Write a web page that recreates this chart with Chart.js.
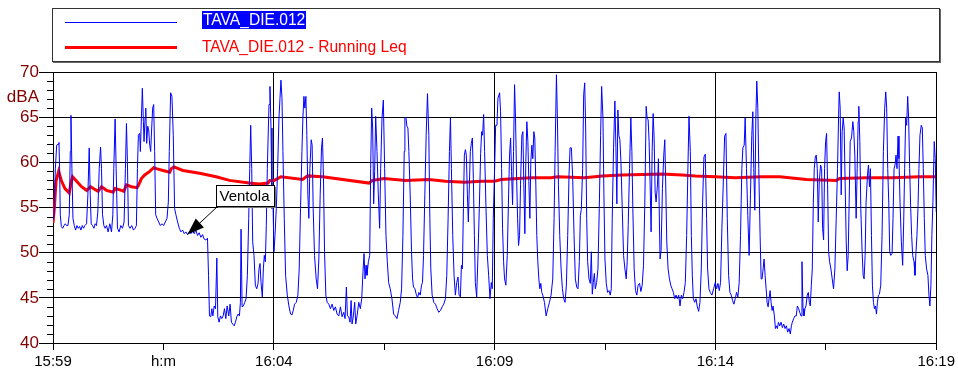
<!DOCTYPE html>
<html>
<head>
<meta charset="utf-8">
<script src="https://cdn.jsdelivr.net/npm/chart.js@4.4.0/dist/chart.umd.min.js"></script>
<style>
  html, body { margin: 0; padding: 0; background: #fff; }
  #wrap { position: relative; width: 958px; height: 376px; font-family: "Liberation Sans", Arial, sans-serif; }
  #chartCanvas { position: absolute; left: 0; top: 0; }
  #legend-box { position: absolute; left: 52px; top: 8px; width: 886px; height: 52px; border: 1px solid #333; box-shadow: 1px 1px 0 #666; }
  .swatch { position: absolute; left: 65px; width: 112px; }
  .leg-text { position: absolute; left: 202px; font-size: 15.6px; line-height: 18px; white-space: nowrap; }
</style>
</head>
<body>
<div id="wrap">
  <canvas id="chartCanvas" width="958" height="376"></canvas>
  <div id="legend-box"></div>
  <div class="swatch" style="top:22px;height:1px;background:#0000ff;"></div>
  <div class="swatch" style="top:46px;height:3px;background:#ff0000;"></div>
  <div class="leg-text" id="leg1" style="top:11px;color:#fff;background:#0000ff;padding:0 1px;"></div>
  <div class="leg-text" id="leg2" style="top:38px;color:#ff0000;"></div>
</div>
<script>
// seconds after 15:59:00 , dBA
const seriesNames = ['TAVA_DIE.012', 'TAVA_DIE.012 - Running Leq'];

const xTickLabels = ['15:59', 'h:m', '16:04', '', '16:09', '', '16:14', '', '16:19'];
const yUnitLabel = 'dBA';

const levelData = [
  [0,53.6],[1.4,54.2],[3.2,59.3],[5.0,61.9],[6.8,62.0],[8.1,62.2],[9.0,59.3],[9.9,54.2],
  [11.3,52.9],[13.1,52.7],[14.9,53.0],[16.7,53.2],[18.5,53.0],[20.3,53.0],[22.1,54.2],[23.5,61.2],
  [24.4,65.2],[25.7,59.3],[27.1,53.8],[28.9,53.0],[30.7,52.5],[32.5,53.0],[34.3,52.7],[36.1,52.9],
  [37.9,52.5],[39.7,53.0],[41.5,52.7],[43.3,53.0],[45.6,53.2],[47.4,56.4],[49.2,61.6],[50.6,56.4],
  [51.9,53.2],[53.7,53.0],[55.5,52.7],[57.3,53.2],[59.1,53.0],[60.9,54.5],[62.8,59.3],[64.6,61.7],
  [65.9,59.3],[67.3,54.2],[69.1,53.0],[70.9,52.7],[72.7,53.0],[74.9,52.3],[77.2,53.2],[79.5,52.3],
  [81.3,54.2],[82.6,59.3],[84.4,64.8],[85.8,59.3],[87.6,52.7],[89.8,52.3],[92.1,53.0],[94.4,52.7],
  [96.6,53.4],[98.4,59.3],[99.8,64.3],[101.1,60.1],[102.5,53.0],[104.7,52.7],[107.0,53.0],[109.3,52.5],
  [111.5,52.7],[113.3,53.0],[114.7,59.3],[116.0,63.0],[117.8,63.2],[118.7,61.2],[120.1,64.9],[121.4,68.2],
  [122.8,64.5],[123.7,62.3],[125.1,64.9],[126.0,66.0],[127.3,62.1],[128.7,64.0],[130.0,63.6],[131.4,61.9],
  [132.7,61.2],[134.1,63.8],[135.4,66.0],[136.8,66.4],[138.1,61.2],[139.5,54.2],[141.3,53.8],[143.6,53.4],
  [145.8,53.0],[148.1,53.2],[150.3,53.0],[152.6,53.4],[154.9,53.8],[156.7,55.6],[158.0,61.2],[159.8,67.7],
  [161.6,67.3],[163.4,63.0],[165.2,54.9],[167.0,54.2],[169.3,53.4],[171.6,52.7],[173.8,52.3],[176.1,52.5],
  [178.3,52.1],[180.6,52.3],[182.8,52.0],[185.1,52.3],[187.4,52.1],[189.6,52.4],[191.9,52.1],[194.1,52.5],
  [196.4,51.9],[198.6,52.2],[200.9,51.7],[203.2,52.0],[205.4,51.5],[207.7,51.4],[209.9,51.6],[211.3,47.5],
  [212.6,43.0],[214.4,42.9],[215.8,43.8],[217.2,43.0],[219.0,44.1],[220.8,43.8],[222.6,49.4],[223.9,42.9],
  [225.7,42.3],[227.5,43.0],[229.3,42.7],[231.2,43.0],[233.0,43.8],[234.8,42.7],[236.6,44.1],[238.8,43.0],
  [240.6,44.3],[242.4,42.3],[244.2,42.1],[246.1,41.9],[247.9,42.3],[249.7,42.9],[251.5,43.2],[253.3,43.0],
  [254.6,44.5],[255.5,52.6],[256.9,44.0],[258.7,44.1],[260.5,44.5],[262.3,44.9],[264.1,47.5],[265.9,53.8],
  [267.3,59.3],[268.6,64.1],[270.0,59.3],[271.3,51.2],[273.1,49.7],[274.9,46.4],[276.8,46.0],[278.6,46.6],
  [279.9,48.2],[281.3,48.8],[282.6,46.7],[284.4,45.1],[285.8,48.2],[287.1,49.7],[288.5,49.0],[289.8,53.0],
  [291.2,59.3],[292.6,63.8],[293.5,66.4],[294.8,68.4],[296.2,63.8],[297.5,54.9],[298.9,55.6],[300.2,50.1],
  [301.6,51.9],[303.4,54.9],[305.2,59.3],[307.0,64.9],[308.4,67.1],[309.7,69.1],[311.1,67.1],[312.4,61.2],
  [314.2,53.8],[316.0,47.5],[318.3,45.3],[320.5,44.1],[322.8,43.2],[324.6,43.1],[326.4,43.6],[328.2,44.3],
  [330.5,44.5],[332.7,45.3],[334.5,48.2],[336.3,54.9],[338.2,61.2],[339.5,64.9],[340.9,67.3],[342.2,66.0],
  [343.6,67.3],[344.9,63.0],[346.3,56.4],[347.6,53.8],[349.0,59.3],[350.8,62.5],[352.1,61.9],[353.5,54.9],
  [355.3,49.7],[357.6,47.1],[359.4,46.0],[361.2,49.3],[363.0,56.4],[364.8,61.6],[366.1,62.7],[367.5,58.2],
  [368.9,50.1],[370.7,45.3],[372.5,44.5],[374.7,44.3],[377.0,43.8],[379.2,44.3],[381.5,43.6],[383.7,44.0],
  [386.0,43.2],[388.3,43.0],[390.5,44.0],[392.8,42.9],[395.0,43.4],[396.8,42.7],[398.6,46.2],[400.0,43.0],
  [401.8,42.9],[403.6,42.3],[405.0,44.7],[406.3,42.1],[408.1,43.0],[409.9,44.5],[411.3,42.1],[413.1,43.0],
  [415.4,44.5],[417.6,43.8],[419.4,44.9],[421.2,47.9],[422.6,49.9],[423.9,47.1],[425.3,48.6],[426.6,47.5],
  [428.5,49.0],[430.3,49.7],[431.6,59.3],[433.0,66.0],[434.3,63.8],[435.7,55.4],[437.0,59.0],[438.4,65.1],
  [440.2,61.2],[442.0,56.4],[443.8,52.7],[445.2,59.3],[447.0,64.9],[448.8,66.9],[450.6,59.3],[452.4,51.9],
  [454.2,49.0],[456.0,46.7],[458.2,46.0],[460.5,44.9],[462.8,43.2],[465.0,43.0],[467.3,42.7],[469.5,43.6],
  [471.8,44.5],[473.6,46.0],[475.4,51.9],[477.2,61.2],[478.1,64.9],[479.5,65.0],[480.8,64.0],[482.2,63.8],
  [483.5,61.2],[485.3,56.4],[487.1,50.1],[488.5,47.1],[489.8,46.2],[491.7,46.0],[493.5,45.4],[495.3,45.0],
  [497.1,45.6],[498.9,45.3],[500.7,46.4],[502.0,46.7],[503.4,49.7],[505.2,56.4],[507.0,63.0],[508.8,67.6],
  [510.6,63.0],[512.0,53.8],[513.3,48.2],[515.1,45.3],[517.4,44.5],[519.6,44.3],[521.9,43.8],[524.2,43.4],
  [526.4,43.6],[528.7,44.0],[530.9,44.3],[533.2,44.9],[535.0,47.5],[536.8,53.8],[538.6,61.2],[540.0,64.9],
  [541.3,59.3],[543.1,51.9],[544.9,47.5],[546.7,45.3],[548.5,46.7],[550.3,47.3],[551.7,45.3],[553.5,45.1],
  [554.9,48.6],[556.2,48.2],[557.6,54.9],[558.9,60.8],[560.3,61.4],[561.6,60.8],[563.0,56.4],[564.3,53.4],
  [565.7,57.5],[567.0,61.2],[568.4,62.1],[569.8,62.7],[571.1,58.2],[572.5,51.9],[573.8,46.7],[575.6,45.1],
  [577.4,49.7],[579.2,54.9],[581.0,61.0],[582.4,63.4],[583.7,63.0],[585.1,65.3],[586.4,61.2],[588.3,54.9],
  [590.1,49.7],[591.9,47.5],[593.7,44.9],[595.5,46.7],[596.8,46.0],[598.2,53.8],[600.0,59.3],[601.4,64.1],
  [603.2,64.1],[604.5,67.1],[606.8,67.7],[608.1,65.6],[609.5,59.3],[610.8,52.7],[612.2,49.0],[613.5,47.1],
  [615.3,46.4],[617.2,49.7],[619.0,56.4],[620.3,60.8],[621.7,62.7],[623.0,59.0],[624.4,55.3],[625.7,61.2],
  [627.1,68.6],[628.4,64.9],[629.8,58.6],[631.2,53.8],[632.5,50.8],[633.9,51.9],[635.2,57.5],[637.0,63.0],
  [638.4,63.4],[639.7,57.5],[641.1,52.1],[642.4,60.1],[643.8,64.5],[645.2,62.3],[646.5,57.9],[647.9,53.8],
  [649.2,60.1],[650.6,61.9],[651.9,60.4],[653.3,63.4],[654.6,62.7],[656.0,57.5],[657.3,51.9],[658.7,49.0],
  [660.1,47.1],[661.4,46.0],[662.8,46.6],[664.1,45.6],[665.5,45.3],[667.7,44.5],[670.0,43.0],[672.2,43.8],
  [674.5,44.5],[676.7,45.3],[679.0,47.1],[680.8,53.8],[682.2,61.2],[684.0,69.7],[685.3,64.9],[686.7,57.5],
  [688.5,51.9],[690.3,48.2],[692.1,46.0],[693.9,44.9],[695.7,44.5],[697.5,46.4],[699.3,51.9],[701.1,58.6],
  [702.5,61.6],[704.3,61.6],[706.1,58.2],[707.9,51.9],[709.7,47.1],[711.5,46.2],[713.3,46.0],[715.1,49.0],
  [716.5,54.1],[717.8,54.8],[719.6,59.3],[721.0,67.5],[722.4,68.8],[723.7,63.8],[725.1,53.8],[726.4,49.0],
  [728.2,47.1],[730.0,46.6],[731.4,50.1],[732.7,45.4],[734.1,46.7],[735.5,47.7],[736.8,46.0],[738.6,46.7],
  [740.4,48.2],[742.2,54.9],[744.0,63.0],[745.4,68.4],[747.2,64.9],[748.5,56.4],[749.9,49.3],[751.7,46.6],
  [753.5,45.6],[755.3,45.8],[757.1,45.3],[758.5,46.0],[759.8,53.8],[761.6,61.6],[763.4,66.8],[764.8,61.6],
  [766.1,55.4],[767.5,65.8],[768.8,63.0],[770.2,62.5],[771.6,60.1],[773.4,54.9],[775.2,49.7],[777.0,48.2],
  [778.8,47.1],[780.1,49.0],[781.5,53.0],[783.3,59.3],[785.1,64.9],[786.5,61.2],[787.8,54.9],[789.6,48.2],
  [791.4,45.8],[793.2,45.3],[795.0,46.4],[796.9,46.6],[798.7,45.7],[800.5,46.4],[802.3,48.6],[804.1,55.6],
  [805.9,66.2],[807.2,64.9],[808.6,64.7],[809.9,62.3],[811.3,57.5],[812.6,52.3],[814.0,61.2],[815.4,65.4],
  [816.7,62.7],[818.1,56.7],[819.4,55.6],[821.2,57.5],[822.6,60.4],[823.9,53.4],[824.8,49.3],[826.2,50.3],
  [828.0,57.1],[829.8,60.8],[831.2,62.5],[832.5,57.5],[833.9,51.2],[835.7,48.2],[837.5,47.1],[839.3,46.4],
  [841.1,46.0],[842.9,45.6],[844.7,44.9],[846.5,45.3],[848.3,44.9],[850.1,45.3],[851.9,44.1],[853.7,45.3],
  [855.5,44.9],[857.3,45.6],[859.1,46.7],[860.9,51.9],[862.8,60.1],[864.1,65.1],[865.9,61.2],[867.3,51.9],
  [868.6,47.5],[870.0,44.9],[871.8,44.5],[873.6,44.9],[875.4,44.0],[877.2,43.5],[879.0,44.5],[880.8,48.2],
  [882.6,55.6],[884.4,60.6],[886.2,60.9],[888.0,53.8],[889.4,48.2],[891.2,46.0],[893.0,45.6],[895.3,45.3],
  [897.5,46.0],[899.8,46.7],[901.6,46.0],[903.4,46.6],[905.2,45.8],[907.0,46.7],[908.8,52.7],[910.6,57.5],
  [912.5,62.9],[914.3,63.2],[916.1,53.8],[917.9,47.5],[919.7,45.6],[921.5,45.3],[923.3,44.7],[925.1,44.3],
  [926.9,44.9],[928.7,45.6],[930.5,45.1],[932.3,46.7],[934.1,51.9],[935.9,59.3],[937.3,61.6],[939.1,61.9],
  [940.4,64.9],[942.2,59.3],[944.0,54.1],[945.8,49.7],[947.6,56.4],[949.4,63.0],[950.8,65.6],[952.1,59.3],
  [953.5,54.7],[954.9,64.9],[956.2,69.0],[957.6,66.0],[958.9,59.3],[960.7,51.9],[962.1,47.1],[963.4,47.1],
  [964.8,48.2],[966.1,49.3],[967.5,47.5],[968.9,46.0],[970.2,44.5],[971.6,44.0],[972.9,44.9],[974.3,45.8],
  [975.6,44.5],[977.0,43.6],[978.3,44.1],[980.1,43.0],[981.5,41.6],[982.8,41.9],[984.2,41.6],[985.6,42.3],
  [987.4,41.9],[989.2,42.3],[991.0,41.7],[992.8,42.1],[994.6,41.6],[996.4,41.9],[998.2,41.2],[1000.0,41.6],
  [1001.8,41.0],[1003.2,41.9],[1004.5,42.3],[1006.3,42.7],[1008.1,43.0],[1009.9,43.0],[1011.3,44.1],[1013.1,43.8],
  [1014.5,43.4],[1016.3,43.0],[1017.6,49.0],[1019.0,43.8],[1020.3,43.0],[1021.7,43.8],[1023.0,44.1],[1024.8,45.3],
  [1026.2,45.6],[1027.6,44.5],[1028.9,44.1],[1030.3,46.4],[1031.6,48.2],[1033.0,55.6],[1034.3,59.3],[1035.7,60.6],
  [1037.0,60.8],[1038.4,59.3],[1039.7,53.4],[1041.1,57.9],[1042.9,59.7],[1044.3,59.3],[1045.6,52.7],[1047.0,51.4],
  [1048.3,59.3],[1049.7,62.3],[1051.0,63.2],[1052.4,57.5],[1053.8,50.1],[1055.1,49.0],[1056.9,48.2],[1058.7,47.1],
  [1060.5,46.0],[1062.3,48.2],[1064.1,53.8],[1065.9,59.3],[1067.3,64.9],[1068.2,67.8],[1069.5,66.0],[1070.9,56.4],
  [1072.2,63.4],[1073.6,64.9],[1074.9,63.8],[1076.3,57.5],[1077.7,51.2],[1079.0,48.0],[1080.4,49.7],[1081.7,55.6],
  [1083.1,62.3],[1084.9,62.7],[1086.7,64.5],[1088.0,63.4],[1089.4,60.8],[1091.2,53.8],[1092.6,59.3],[1093.9,64.5],
  [1094.8,66.2],[1096.2,62.3],[1097.5,54.9],[1099.3,50.1],[1100.7,47.5],[1102.0,47.1],[1103.4,49.7],[1104.7,55.6],
  [1106.6,58.6],[1107.9,59.7],[1109.3,57.3],[1110.6,59.3],[1112.0,51.9],[1113.3,46.4],[1114.7,44.5],[1116.0,43.8],
  [1117.4,44.1],[1118.8,43.2],[1120.1,44.5],[1121.5,45.3],[1122.8,45.4],[1124.6,46.4],[1126.4,51.9],[1128.2,61.2],
  [1130.0,66.0],[1131.4,67.8],[1132.7,66.0],[1134.1,59.3],[1135.5,55.6],[1136.8,50.1],[1138.2,49.7],[1140.0,49.9],
  [1141.3,53.8],[1142.7,59.3],[1144.0,59.7],[1145.4,60.8],[1146.7,59.3],[1148.1,62.9],[1149.4,60.4],[1150.8,55.6],
  [1152.6,51.2],[1154.4,48.6],[1155.8,53.4],[1157.1,59.3],[1158.5,64.9],[1159.8,64.1],[1161.2,67.3],[1162.5,64.9],
  [1163.9,59.3],[1165.3,54.9],[1166.6,51.9],[1168.0,49.7],[1169.8,49.0],[1171.1,47.5],[1172.5,50.1],[1173.8,51.9],
  [1175.2,54.9],[1176.5,59.3],[1177.9,63.0],[1179.7,64.1],[1181.1,63.8],[1182.4,59.3],[1183.8,53.8],[1185.1,49.7],
  [1186.9,48.2],[1188.7,47.5],[1190.1,45.3],[1191.4,44.1],[1192.8,46.4],[1194.1,51.9],[1195.5,55.6],[1197.3,62.3],
  [1198.7,60.4],[1200.0,54.5]
];

const leqData = [
  [0,53.3],[1.8,54.9],[4.1,57.9],[7.7,59.0],[11.7,57.9],[16.3,57.1],[22.1,56.6],[24.4,57.7],
  [26.6,58.4],[32.1,57.9],[38.8,57.3],[45.6,56.9],[48.8,57.1],[51.0,57.3],[56.9,57.0],[61.4,56.8],
  [65.9,57.3],[72.7,56.9],[81.7,56.7],[84.4,57.1],[93.0,56.9],[96.2,56.8],[99.8,57.5],[106.5,57.3],
  [114.2,57.2],[116.9,57.6],[120.1,58.2],[124.6,58.6],[131.4,59.0],[136.8,59.4],[140.4,59.3],[149.4,59.1],
  [158.5,58.9],[160.7,59.3],[164.3,59.5],[176.5,59.1],[199.1,58.8],[221.7,58.4],[239.7,58.0],[266.4,57.7],
  [280.4,57.6],[292.1,57.7],[294.8,58.0],[300.7,58.0],[309.7,58.4],[339.1,58.1],[345.8,58.5],[366.1,58.4],
  [429.4,57.7],[433.9,58.0],[449.7,58.2],[479.0,58.0],[510.6,58.1],[533.2,57.9],[559.4,57.8],[581.9,57.9],
  [600.0,57.9],[609.0,58.1],[631.6,58.2],[649.7,58.3],[676.7,58.3],[685.8,58.4],[721.9,58.3],[746.3,58.5],
  [773.4,58.6],[827.5,58.7],[854.6,58.6],[872.7,58.5],[899.8,58.4],[926.9,58.3],[963.0,58.4],[987.4,58.4],
  [1023.5,58.1],[1064.1,58.0],[1068.6,58.2],[1104.7,58.3],[1140.8,58.3],[1177.0,58.4],[1200,58.4]
];

// note on the level trace
const ventolaText = 'Ventola';
const ventolaAt = [182.6, 52.0];
const ventolaBoxAt = [220.8, 57.5];
const yUnitAt = 67.2;

const AXIS_RED = '#800000';
const FONT = '"Liberation Sans", Arial, sans-serif';

document.getElementById('leg1').textContent = seriesNames[0];
document.getElementById('leg2').textContent = seriesNames[1];

function toPoints(pairs) {
  return pairs.map(function(p) { return { x: p[0], y: p[1] }; });
}

const overlayPlugin = {
  id: 'overlay',
  afterDraw: function(chart) {
    const ctx = chart.ctx;
    const area = chart.chartArea;
    const xs = chart.scales.x;
    const ys = chart.scales.y;
    ctx.save();

    // short minor ticks on the level axis
    ctx.strokeStyle = '#000';
    ctx.lineWidth = 1;
    ys.ticks.forEach(function(t) {
      if (t.value % 5 === 0) return;
      const y = Math.round(ys.getPixelForValue(t.value)) + 0.5;
      ctx.beginPath();
      ctx.moveTo(area.left - 6, y);
      ctx.lineTo(area.left, y);
      ctx.stroke();
    });

    ctx.fillStyle = AXIS_RED;
    ctx.font = '17px ' + FONT;
    ctx.textAlign = 'right';
    ctx.textBaseline = 'middle';
    ctx.fillText(yUnitLabel, area.left - 14, ys.getPixelForValue(yUnitAt));

    // Ventola callout
    const tipX = xs.getPixelForValue(ventolaAt[0]);
    const tipY = ys.getPixelForValue(ventolaAt[1]);
    const bx = Math.round(xs.getPixelForValue(ventolaBoxAt[0])) + 0.5;
    const by = Math.round(ys.getPixelForValue(ventolaBoxAt[1])) + 0.5;
    ctx.font = '15px ' + FONT;
    const w = Math.round(ctx.measureText(ventolaText).width) + 8;
    const h = 21;
    const sx = bx + 1, sy = by + h;
    ctx.strokeStyle = '#000';
    ctx.beginPath();
    ctx.moveTo(sx, sy);
    ctx.lineTo(tipX, tipY);
    ctx.stroke();
    const ang = Math.atan2(tipY - sy, tipX - sx);
    const len = 17, half = 6;
    const baseX = tipX - len * Math.cos(ang), baseY = tipY - len * Math.sin(ang);
    ctx.beginPath();
    ctx.moveTo(tipX, tipY);
    ctx.lineTo(baseX + half * Math.sin(ang), baseY - half * Math.cos(ang));
    ctx.lineTo(baseX - half * Math.sin(ang), baseY + half * Math.cos(ang));
    ctx.closePath();
    ctx.fillStyle = '#000';
    ctx.fill();

    ctx.fillStyle = '#777';
    ctx.fillRect(bx + 1.5, by + 1.5, w, h);
    ctx.fillStyle = '#fff';
    ctx.fillRect(bx, by, w, h);
    ctx.strokeRect(bx, by, w, h);
    ctx.fillStyle = '#000';
    ctx.textAlign = 'left';
    ctx.textBaseline = 'middle';
    ctx.fillText(ventolaText, bx + 3, by + h / 2 + 1);

    ctx.restore();
  }
};

const ctx = document.getElementById('chartCanvas').getContext('2d');
new Chart(ctx, {
  type: 'line',
  data: {
    datasets: [
      {
        label: seriesNames[0],
        data: toPoints(levelData),
        borderColor: '#0000ff',
        borderWidth: 1,
        pointRadius: 0,
        tension: 0
      },
      {
        label: seriesNames[1],
        data: toPoints(leqData),
        borderColor: '#ff0000',
        borderWidth: 3,
        pointRadius: 0,
        tension: 0
      }
    ]
  },
  options: {
    responsive: false,
    animation: false,
    events: [],
    layout: { padding: { top: 72, right: 19, bottom: 0, left: 0 } },
    plugins: { legend: { display: false }, tooltip: { enabled: false } },
    scales: {
      x: {
        type: 'linear',
        min: 0,
        max: 1200,
        afterFit: function(s) { s.height = 33; },
        border: { color: '#000', width: 1 },
        grid: {
          color: function(c) { return c.tick && c.tick.value % 300 === 0 ? '#000' : 'rgba(0,0,0,0)'; },
          tickColor: '#000',
          tickLength: 7,
          lineWidth: 1
        },
        ticks: {
          stepSize: 150,
          autoSkip: false,
          maxRotation: 0,
          padding: 3,
          color: '#000',
          font: { family: FONT, size: 15 },
          callback: function(v) { return xTickLabels[Math.round(v / 150)]; }
        }
      },
      y: {
        min: 40,
        max: 70,
        afterFit: function(s) { s.width = 53; },
        border: { color: '#000', width: 1 },
        grid: {
          color: function(c) { return c.tick && c.tick.value % 5 === 0 ? '#000' : 'rgba(0,0,0,0)'; },
          tickColor: function(c) { return c.tick && c.tick.value % 5 === 0 ? '#000' : 'rgba(0,0,0,0)'; },
          tickLength: 14,
          lineWidth: 1
        },
        ticks: {
          stepSize: 1,
          autoSkip: false,
          padding: 0,
          color: AXIS_RED,
          font: { family: FONT, size: 17 },
          callback: function(v) { return v % 5 === 0 ? String(v) : ''; }
        }
      }
    }
  },
  plugins: [overlayPlugin]
});
</script>
</body>
</html>
